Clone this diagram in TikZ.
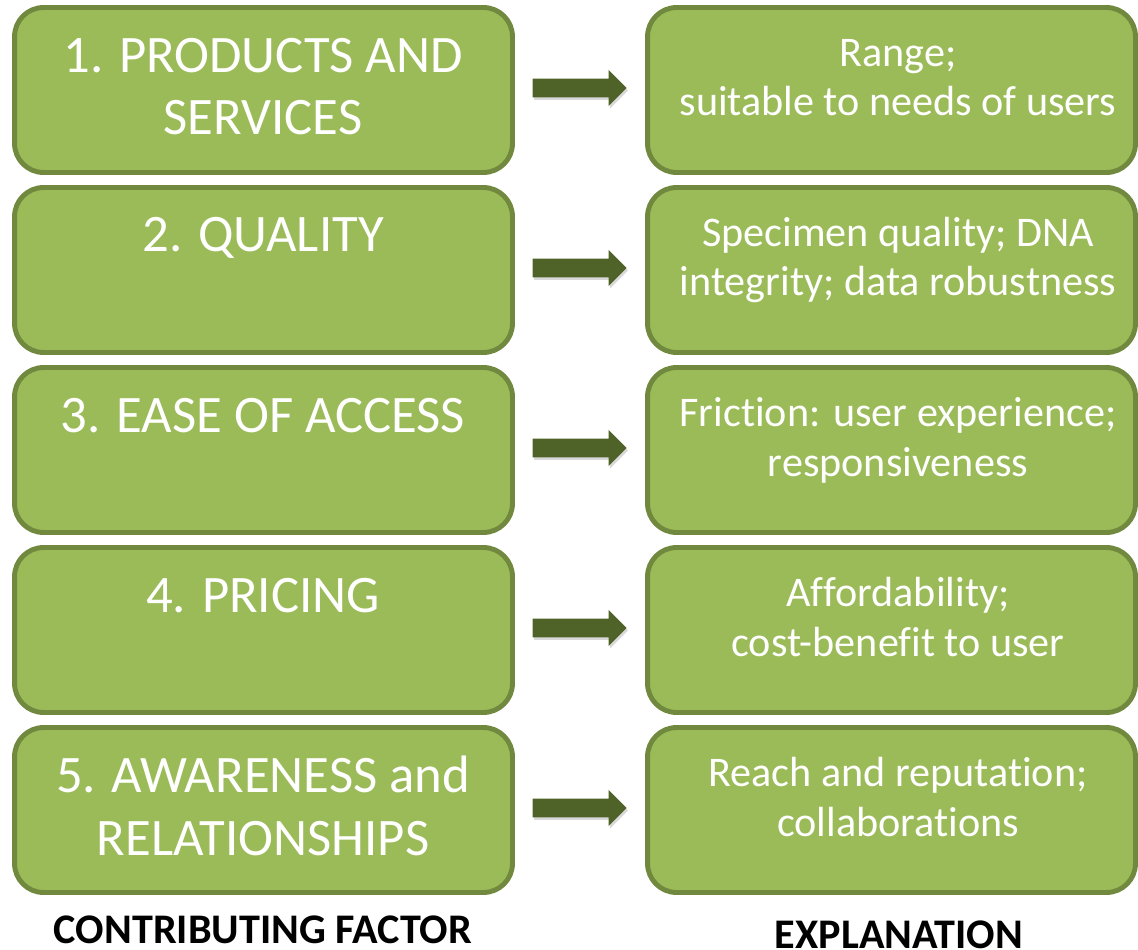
\documentclass[tikz,border=0pt]{standalone}
\usepackage{fontspec}
\setmainfont{Carlito}[Ligatures=NoCommon]
\usetikzlibrary{shapes.arrows,shadows}

\definecolor{boxgreen}{HTML}{9BBB59}
\definecolor{edgegreen}{HTML}{71893F}
\definecolor{arrowgreen}{HTML}{4F6228}

\begin{document}
\begin{tikzpicture}[x=0.02cm, y=-0.02cm,
    factor/.style={draw=edgegreen, fill=boxgreen, line width=2.8pt,
        rounded corners=0.58cm, minimum width=9.96cm, minimum height=3.3cm, inner sep=0},
    explain/.style={factor, minimum width=9.76cm},
    % base anchor sits on the last line of the text
    bigtext/.style={anchor=base, align=center, text=white,
        font=\fontsize{30}{35.7}\selectfont},
    smalltext/.style={anchor=base, align=center, text=white,
        font=\fontsize{24}{28}\selectfont},
    pointer/.style={single arrow, fill=arrowgreen, inner sep=0,
        text height=0.18cm, text depth=0.18cm,
        minimum height=1.88cm, single arrow head extend=0.17cm,
        drop shadow={shadow xshift=0.8pt, shadow yshift=-1.5pt, opacity=0.3}},
    caption/.style={anchor=base, font=\fontsize{24}{28}\selectfont\bfseries}]
    \useasboundingbox (0,0) rectangle (1138,949);

    % Contributing factors (left column)
    \node[factor] (f1) at (263.5,90) {};
    \node[factor] (f2) at (263.5,270) {};
    \node[factor] (f3) at (263.5,450) {};
    \node[factor] (f4) at (263.5,630) {};
    \node[factor] (f5) at (263.5,810) {};

    \node[bigtext] (f1t) at (263,135) {1. PRODUCTS AND\\SERVICES};
    \node[bigtext] (f2t) at (263,252) {2. QUALITY};
    \node[bigtext] (f3t) at (263,432) {3. EASE OF ACCESS};
    \node[bigtext] (f4t) at (263,612) {4. PRICING};
    \node[bigtext] (f5t) at (263,855) {5. AWARENESS and\\RELATIONSHIPS};

    % Explanations (right column)
    \node[explain] (e1) at (891.5,90) {};
    \node[explain] (e2) at (891.5,270) {};
    \node[explain] (e3) at (891.5,450) {};
    \node[explain] (e4) at (891.5,630) {};
    \node[explain] (e5) at (891.5,810) {};

    \node[smalltext] (e1t) at (898,116) {Range;\\suitable to needs of users};
    \node[smalltext] (e2t) at (898,296) {Specimen quality; DNA\\integrity; data robustness};
    \node[smalltext] (e3t) at (898,476) {Friction: user experience;\\responsiveness};
    \node[smalltext] (e4t) at (898,656) {Affordability;\\cost-benefit to user};
    \node[smalltext] (e5t) at (898,836) {Reach and reputation;\\collaborations};

    % Block arrows between the columns
    \node[pointer, anchor=tip] (a1) at (627,88) {};
    \node[pointer, anchor=tip] (a2) at (627,268) {};
    \node[pointer, anchor=tip] (a3) at (627,448) {};
    \node[pointer, anchor=tip] (a4) at (627,628) {};
    \node[pointer, anchor=tip] (a5) at (627,808) {};

    % Column headings
    \node[caption] (leftcap) at (263,943) {CONTRIBUTING FACTOR};
    \node[caption] (rightcap) at (899,948) {EXPLANATION};
\end{tikzpicture}
\end{document}
